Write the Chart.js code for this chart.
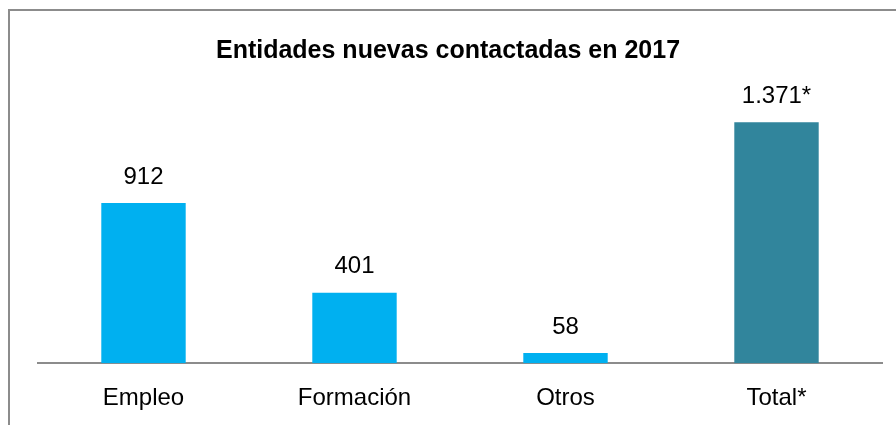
<!DOCTYPE html>
<html>
<head>
<meta charset="utf-8">
<script src="https://cdn.jsdelivr.net/npm/chart.js@4/dist/chart.umd.min.js"></script>
<style>
  html, body { margin: 0; padding: 0; background: #fff; }
  #wrap { position: relative; width: 896px; height: 425px; overflow: hidden; }
  #frame { position: absolute; left: 8px; top: 9px; width: 900px; height: 430px;
           border-left: 2px solid #8c8c8c; border-top: 2px solid #8c8c8c; }
  canvas { position: absolute; left: 0; top: 0; }
</style>
</head>
<body>
<div id="wrap">
  <div id="frame"></div>
  <canvas id="grafico" width="896" height="449"></canvas>
</div>
<script>
// Datos del gráfico
var categorias = ['Empleo', 'Formación', 'Otros', 'Total*'];
var valores = [912, 401, 58, 1371];
var etiquetas = ['912', '401', '58', '1.371*'];
var colores = ['#00B0F0', '#00B0F0', '#00B0F0', '#31859C'];

var fuente = "'Liberation Sans', Arial, sans-serif";

// etiquetas de valor encima de cada barra
var etiquetasPlugin = {
    id: 'etiquetas',
    afterDatasetsDraw: function (chart) {
        var ctx = chart.ctx;
        var meta = chart.getDatasetMeta(0);
        ctx.save();
        ctx.font = '24px ' + fuente;
        ctx.fillStyle = '#000';
        ctx.textAlign = 'center';
        ctx.textBaseline = 'middle';
        meta.data.forEach(function (bar, i) {
            ctx.fillText(etiquetas[i], bar.x, bar.y - 26);
        });
        ctx.restore();
    }
};

var ctx = document.getElementById('grafico').getContext('2d');
var chart = new Chart(ctx, {
    type: 'bar',
    data: {
        labels: categorias,
        datasets: [{
            data: valores,
            backgroundColor: colores,
            borderWidth: 0,
            barPercentage: 0.8,
            categoryPercentage: 0.5
        }]
    },
    options: {
        responsive: false,
        animation: false,
        layout: { padding: { left: 14, right: 14, top: 0, bottom: 15 } },
        plugins: {
            legend: { display: false },
            tooltip: { enabled: false },
            title: {
                display: true,
                text: 'Entidades nuevas contactadas en 2017',
                color: '#000',
                font: { family: fuente, size: 25, weight: 'bold' },
                padding: { top: 36, bottom: 16 }
            }
        },
        scales: {
            x: {
                grid: { display: false, drawTicks: false },
                border: { display: true, color: '#8c8c8c', width: 2 },
                ticks: { color: '#000', font: { family: fuente, size: 24 }, padding: 21 }
            },
            y: {
                display: true,
                min: 0,
                max: 1600,
                grid: { display: false, drawTicks: false },
                border: { display: false },
                ticks: { display: false },
                afterFit: function (scale) { scale.width = 24; }
            }
        }
    },
    plugins: [etiquetasPlugin]
});
</script>
</body>
</html>
